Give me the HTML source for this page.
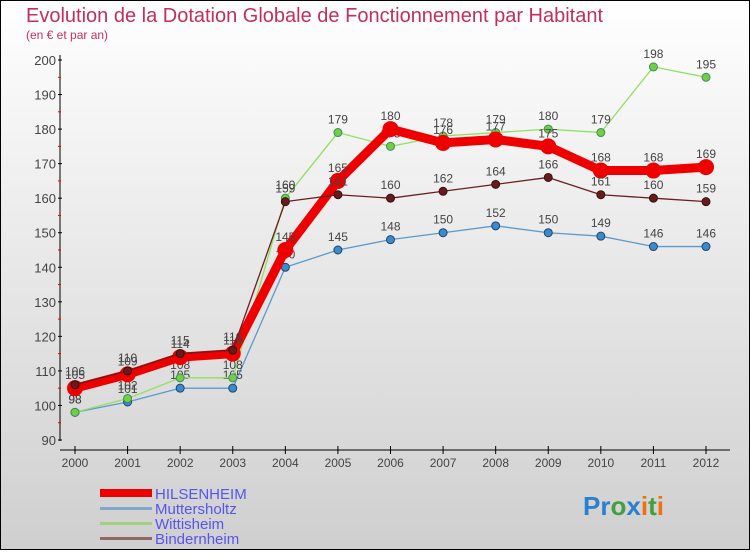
<!DOCTYPE html>
<html><head><meta charset="utf-8"><style>
body{margin:0}
#c{width:750px;height:550px;position:relative;font-family:"Liberation Sans",sans-serif}
</style></head><body>
<div id="c">
<svg id="s" width="750" height="550" xmlns="http://www.w3.org/2000/svg">
<defs><linearGradient id="bg" x1="0" y1="0" x2="0" y2="1"><stop offset="0" stop-color="#ffffff"/><stop offset="1" stop-color="#cfcfcf"/></linearGradient></defs>
<rect x="0.5" y="0.5" width="749" height="549" fill="url(#bg)" stroke="#000"/>
<text x="26" y="22" font-size="20" fill="#c0305a">Evolution de la Dotation Globale de Fonctionnement par Habitant</text>
<text x="26" y="39" font-size="12" fill="#c0305a">(en € et par an)</text>
<g id="axes"></g><g id="series"></g>
<g>
<rect x="100" y="489" width="52" height="8" fill="#ee0000"/>
<text x="155" y="499" font-size="15" fill="#5555ee">HILSENHEIM</text>
<rect x="100" y="507" width="52" height="3" fill="#80a8c8"/>
<text x="155" y="514" font-size="15" fill="#5555ee">Muttersholtz</text>
<rect x="100" y="522" width="52" height="3" fill="#a0d080"/>
<text x="155" y="529" font-size="15" fill="#5555ee">Wittisheim</text>
<rect x="100" y="537" width="52" height="3" fill="#906868"/>
<text x="155" y="544" font-size="15" fill="#5555ee">Bindernheim</text>
</g>
<text x="583" y="515" font-size="26" font-weight="bold"><tspan fill="#2a7fd0">Pr</tspan><tspan fill="#40a040">o</tspan><tspan fill="#2a7fd0">x</tspan><tspan fill="#f07010">i</tspan><tspan fill="#40a040">t</tspan><tspan fill="#f07010">i</tspan></text>
</svg></div>
<script>
const years=[2000,2001,2002,2003,2004,2005,2006,2007,2008,2009,2010,2011,2012];
const hilsenheim=[105,109,114,115,145,165,180,176,177,175,168,168,169];
const muttersholtz=[98,101,105,105,140,145,148,150,152,150,149,146,146];
const wittisheim=[98,102,108,108,160,179,175,178,179,180,179,198,195];
const bindernheim=[106,110,115,116,159,161,160,162,164,166,161,160,159];
const yTicks=[90,100,110,120,130,140,150,160,170,180,190,200];
const NS="http://www.w3.org/2000/svg";
function xS(i){return 75+i*(706-75)/(years.length-1);}
function yS(v){return 440-(v-90)*380/110;}
function mk(t,a,p){const e=document.createElementNS(NS,t);for(const k in a)e.setAttribute(k,a[k]);p.appendChild(e);return e;}
const ax=document.getElementById('axes');
const yl=mk('line',{x1:60,y1:55,x2:60,y2:441,stroke:'#000'},ax);


const xl=mk('line',{x1:60,y1:450,x2:730,y2:450,stroke:'#000'},ax);


yTicks.forEach(v=>{const y=yS(v);
mk('line',{x1:58,y1:y,x2:62,y2:y,stroke:'#000'},ax);
if(v<200)mk('line',{x1:58,y1:y-17.27,x2:61,y2:y-17.27,stroke:'#e00'},ax);
const t=mk('text',{x:56,y:y+5,'font-size':13,fill:'#444','text-anchor':'end'},ax);t.textContent=v;

});
years.forEach((yr,i)=>{const x=xS(i);
mk('line',{x1:x,y1:446,x2:x,y2:454,stroke:'#000'},ax);
const t=mk('text',{x:x,y:467,'font-size':12,fill:'#444','text-anchor':'middle'},ax);t.textContent=yr;

});
const sg=document.getElementById('series');
function draw(name,data,col,dot,w,r,stroke){
const g=mk('g',{},sg);


mk('polyline',{points:data.map((v,i)=>xS(i)+','+yS(v)).join(' '),fill:'none',stroke:col,'stroke-width':w,'stroke-linejoin':'round'},g);
data.forEach((v,i)=>{const c=mk('circle',{cx:xS(i),cy:yS(v),r:r,fill:dot,stroke:stroke,'stroke-width':1},g);


const t=mk('text',{x:xS(i),y:yS(v)-9,'font-size':12,fill:'#444','text-anchor':'middle'},g);t.textContent=v;

});}
draw('muttersholtz',muttersholtz,'#5a9ad0','#3a8ad0',1.3,4,'#246');
draw('wittisheim',wittisheim,'#90e060','#70d040',1.3,4,'#486');
draw('hilsenheim',hilsenheim,'#ee0000','#ee0000',9,8,'none');
draw('bindernheim',bindernheim,'#6a1e1e','#6a1a1a',1.3,4,'#311');
</script>
</body></html>
